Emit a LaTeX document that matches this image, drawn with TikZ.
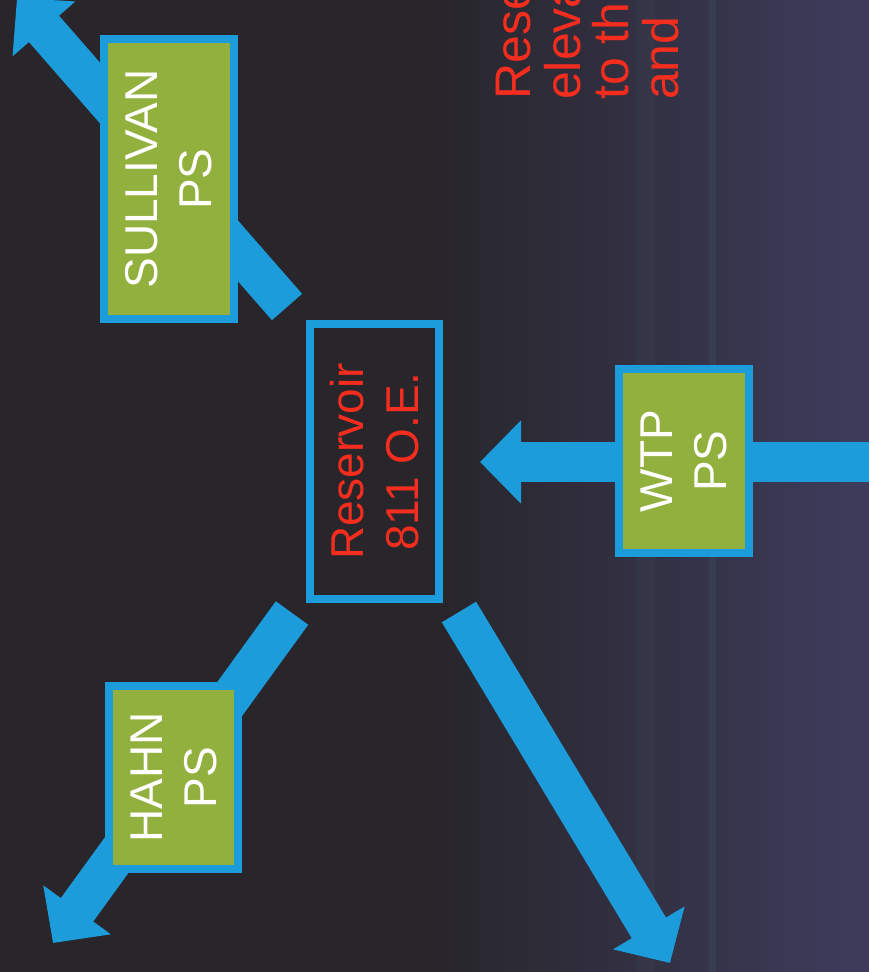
\documentclass[tikz,border=0pt]{standalone}
\usepackage{fontspec}
\setmainfont{Liberation Sans}
\usetikzlibrary{arrows.meta}
\definecolor{bgdark}{RGB}{40,38,43}
\definecolor{bgblue}{RGB}{62,60,92}
\definecolor{pipeblue}{RGB}{28,156,218}
\definecolor{boxgreen}{RGB}{145,176,62}
\definecolor{redtxt}{RGB}{245,45,30}
\definecolor{streak}{RGB}{70,105,115}
\begin{document}
\begin{tikzpicture}[x=1pt,y=1pt,
  pipe/.style={draw=pipeblue, line width=40pt, -{Triangle[length=41pt,width=81pt]}},
  psbox/.style={rotate=90, draw=pipeblue, line width=8pt, fill=boxgreen, text=white,
     font=\fontsize{46}{54}\selectfont, align=center, inner sep=0pt},
  resbox/.style={rotate=90, draw=pipeblue, line width=8pt, fill=bgdark, text=redtxt,
     font=\fontsize{46}{55}\selectfont, align=center, inner sep=0pt},
  toptxt/.style={rotate=90, text=redtxt, font=\fontsize{50}{50}\selectfont, inner sep=0pt, anchor=base west}]
\useasboundingbox (0,0) rectangle (869,-972);
\clip (0,0) rectangle (869,-972);
% background
\fill[bgdark] (0,0) rectangle (440,-972);
\shade[left color=bgdark,right color=bgblue] (439,0) rectangle (869,-972);
\fill[streak, opacity=0.12] (636,0) rectangle (655,-972);
\fill[streak, opacity=0.18] (709,0) rectangle (716,-972);
% connector end points
\coordinate (s1) at (287,-307);
\coordinate (s2) at (17,2);
\coordinate (w1) at (880,-462);
\coordinate (w2) at (480,-462);
\coordinate (h1) at (292,-613);
\coordinate (h2) at (53,-943);
\coordinate (b1) at (459,-612);
\coordinate (b2) at (670,-963);
% arrows
\draw[pipe] (s1) -- (s2);
\draw[pipe] (w1) -- (w2);
\draw[pipe] (h1) -- (h2);
\draw[pipe] (b1) -- (b2);
% boxes
\node[psbox, minimum width=280, minimum height=130] (sull) at (169,-179) {SULLIVAN\\PS};
\node[psbox, minimum width=183, minimum height=129] (hahn) at (173.5,-777.5) {HAHN\\PS};
\node[psbox, minimum width=184, minimum height=130] (wtp) at (684,-461) {WTP\\PS};
\node[resbox, minimum width=275, minimum height=129] (res) at (374.5,-461.5) {Reservoir\\811 O.E.};
% top text (cut off at the top edge, as in the reference)
\node[toptxt] (t1) at (530,-100) {Rese};
\node[toptxt] (t2) at (580,-100) {eleva};
\node[toptxt] (t3) at (628,-100) {to th};
\node[toptxt] (t4) at (678,-100) {and};
\end{tikzpicture}
\end{document}
